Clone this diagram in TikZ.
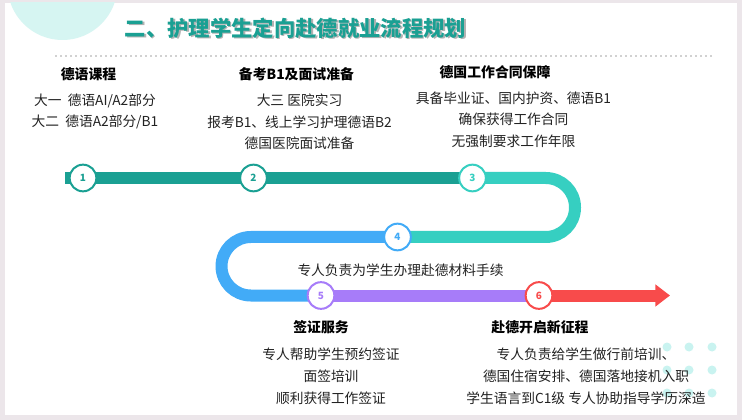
\documentclass[tikz,border=0pt]{standalone}
\usepackage{fontspec}
\setmainfont{Noto Sans CJK SC}
\usepackage{tikz}
\usetikzlibrary{arrows.meta}

\definecolor{tealD}{HTML}{1AA093}
\definecolor{tealL}{HTML}{36CFC1}
\definecolor{blueS}{HTML}{42ABF7}
\definecolor{purpS}{HTML}{A77CF9}
\definecolor{redS}{HTML}{F84B4B}
\definecolor{mint}{HTML}{D6F5F2}
\definecolor{mintdot}{HTML}{C9F3F0}
\definecolor{frame}{HTML}{ECE6EA}
\definecolor{ink}{HTML}{222222}

\begin{document}
\begin{tikzpicture}[x=0.75pt,y=-0.75pt,
        stage/.style = {circle, draw=#1, fill=white, line width=1.5pt, text=#1, minimum size=20pt, inner sep=0pt, font=\fontsize{7.5}{8}\selectfont\bfseries},
        bar/.style = {draw=#1, line width=9pt},
        head/.style = {font=\fontsize{10.4}{12}\selectfont\bfseries, text=black},
        info/.style = {font=\fontsize{10.3}{16}\selectfont, text=ink, align=center},
        info+/.style = {info, font=\fontsize{10.3}{16.5}\selectfont},
    ]
    \useasboundingbox (0,0) rectangle (742,420);
    % slide
    \fill[frame] (0,0) rectangle (742,420);
    \fill[white] (5,3) rectangle (737,415);
    \begin{scope}
        \clip (5,3) rectangle (737,415);
        \fill[mint] (62.5,-15) circle[radius=55];
    \end{scope}
    \foreach \dx in {667,689,712}
        \foreach \dy in {347,370,393}
            \fill[mintdot] (\dx,\dy) circle[radius=4.5];
    % title
    \node[font=\fontsize{16}{18}\selectfont\bfseries, text=black!30] (titleshadow) at (297,29.5) {二、护理学生定向赴德就业流程规划};
    \node[font=\fontsize{16}{18}\selectfont\bfseries, text=tealD] (title) at (295.5,28) {二、护理学生定向赴德就业流程规划};
    \draw[black!18, line width=1.5pt, dash pattern=on 1.5pt off 2.25pt] (55,56) -- (712,56);

    % road
    \coordinate (s0) at (65,178);
    \coordinate (c1) at (83,178);
    \coordinate (c2) at (253.5,178);
    \coordinate (c3) at (472.5,178);
    \coordinate (r1) at (575,178);
    \coordinate (r2) at (575,237);
    \coordinate (c4) at (397.5,237);
    \coordinate (l1) at (221.5,237);
    \coordinate (l2) at (221.5,295.5);
    \coordinate (c5) at (321,295.5);
    \coordinate (c6) at (539,295.5);
    \coordinate (tip) at (670,295.5);
    \draw[bar=tealD] (s0) -- (c3);
    \draw[bar=tealL, rounded corners=22pt] (c3) -- (r1) -- (r2) -- (c4);
    \draw[bar=blueS, rounded corners=22pt] (c4) -- (l1) -- (l2) -- (c5);
    \draw[bar=purpS] (c5) -- (c6);
    \draw[bar=redS, -{Triangle[length=11pt,width=16pt]}] (c6) -- (tip);

    % stages
    \node[stage=tealD] (n1) at (c1) {1};
    \node[stage=tealD] (n2) at (c2) {2};
    \node[stage=tealL] (n3) at (c3) {3};
    \node[stage=blueS] (n4) at (c4) {4};
    \node[stage=purpS] (n5) at (c5) {5};
    \node[stage=redS] (n6) at (c6) {6};

    % texts
    \node[head] (h1) at (88.5,74) {德语课程};
    \node[info] (t1) at (95,111.5) {大一\ \ 德语AI/A2部分\\大二\ \ 德语A2部分/B1};
    \node[head] (h2) at (296.5,74) {备考B1及面试准备};
    \node[info] (t2) at (299.5,122) {大三 医院实习\\报考B1、线上学习护理德语B2\\德国医院面试准备};
    \node[head] (h3) at (495,72) {德国工作合同保障};
    \node[info] (t3) at (513.5,119.5) {具备毕业证、国内护资、德语B1\\确保获得工作合同\\无强制要求工作年限};
    \node[info] (t4) at (400.5,270) {专人负责为学生办理赴德材料手续};
    \node[head] (h5) at (321,327) {签证服务};
    \node[info+] (t5) at (331,376) {专人帮助学生预约签证\\面签培训\\顺利获得工作签证};
    \node[head] (h6) at (540,327) {赴德开启新征程};
    \node[info+] (t6) at (586,376) {专人负责给学生做行前培训、\\德国住宿安排、德国落地接机入职\\学生语言到C1级 专人协助指导学历深造};
\end{tikzpicture}
\end{document}
